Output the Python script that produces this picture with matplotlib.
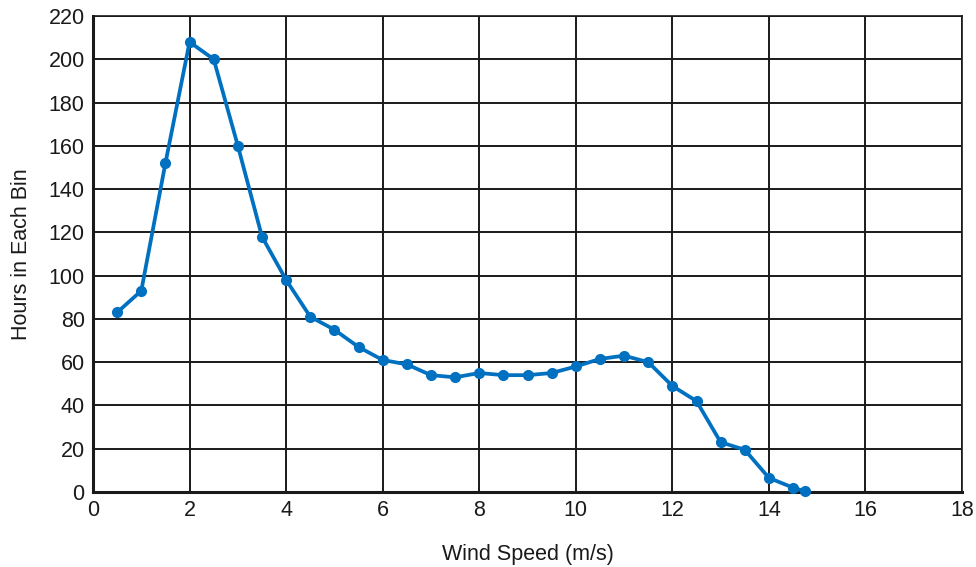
import numpy as np
from matplotlib import pyplot as plt

plt.rcParams['font.family'] = ['Liberation Sans', 'DejaVu Sans']

# hours per 0.5 m/s wind speed bin
wind_speed = [0.5, 1.0, 1.5, 2.0, 2.5, 3.0, 3.5, 4.0, 4.5, 5.0, 5.5, 6.0,
              6.5, 7.0, 7.5, 8.0, 8.5, 9.0, 9.5, 10.0, 10.5, 11.0, 11.5,
              12.0, 12.5, 13.0, 13.5, 14.0, 14.5, 14.75]
hours = [83, 93, 152, 208, 200, 160, 118, 98, 81, 75, 67, 61,
         59, 54, 53, 55, 54, 54, 55, 58, 61.5, 63, 60,
         49, 42, 23, 19.5, 6.5, 2, 0.3]

x_ticks = np.arange(0, 19, 2)
y_ticks = np.arange(0, 221, 20)

fig = plt.figure(figsize=(9.76, 5.67), dpi=100)
ax = fig.add_axes([0.0953, 0.1323, 0.8904, 0.8395])

ax.plot(wind_speed, hours, color='#0070C0', lw=2.7, marker='o', ms=7,
        clip_on=False, zorder=3)

ax.set_xlim(0, 18)
ax.set_ylim(0, 220)
ax.set_xticks(x_ticks)
ax.set_yticks(y_ticks)
ax.grid(True, color='#1a1a1a', lw=1.4)
ax.tick_params(length=0, labelsize=15.5, pad=6, colors='#1a1a1a')
for side in ['left', 'bottom']:
    ax.spines[side].set_linewidth(2.2)
for side in ['top', 'right']:
    ax.spines[side].set_linewidth(1.2)
for sp in ax.spines.values():
    sp.set_color('#1a1a1a')

ax.set_xlabel('Wind Speed (m/s)', fontsize=15.5, labelpad=16, color='#1a1a1a')
ax.set_ylabel('Hours in Each Bin', fontsize=15.5, labelpad=12, color='#1a1a1a')

fig.savefig('out.png', dpi=100)
